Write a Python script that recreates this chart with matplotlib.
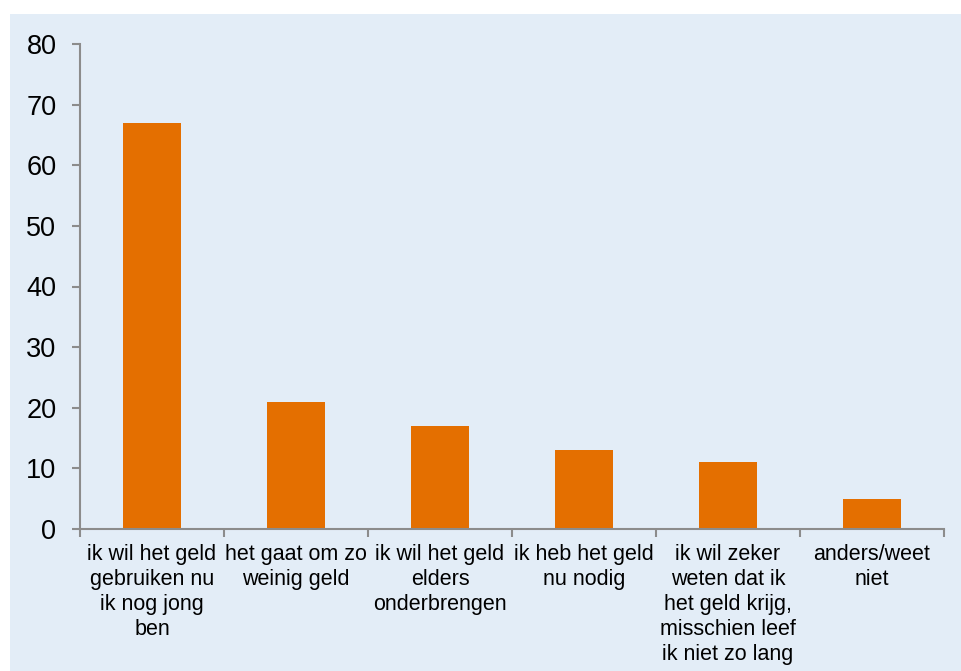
import matplotlib.pyplot as plt
from matplotlib.patches import Rectangle

plt.rcParams['font.family'] = ['Liberation Sans', 'DejaVu Sans']

redenen = [
    'ik wil het geld\ngebruiken nu\nik nog jong\nben',
    'het gaat om zo\nweinig geld',
    'ik wil het geld\nelders\nonderbrengen',
    'ik heb het geld\nnu nodig',
    'ik wil zeker\nweten dat ik\nhet geld krijg,\nmisschien leef\nik niet zo lang',
    'anders/weet\nniet',
]
percentages = [67, 21, 17, 13, 11, 5]
y_ticks = [0, 10, 20, 30, 40, 50, 60, 70, 80]

W, H = 962, 671
fig = plt.figure(figsize=(W / 100, H / 100), dpi=100)
fig.patch.set_facecolor('white')

# light blue panel behind the chart
fig.add_artist(Rectangle((10 / W, 0), 1 - 10 / W, 1 - 14 / H,
                         transform=fig.transFigure, facecolor='#E3EDF7',
                         edgecolor='none', zorder=-1))

ax = fig.add_axes([80 / W, (H - 529) / H, (944 - 80) / W, (529 - 44) / H])
ax.set_facecolor('none')
ax.set_zorder(1)

x = range(len(redenen))
ax.bar(x, percentages, width=0.4, color='#E46F00', zorder=2)

ax.set_xlim(-0.5, len(redenen) - 0.5)
ax.set_ylim(0, 80)
ax.set_yticks(y_ticks)
ax.tick_params(axis='y', labelsize=19.5, length=6, width=1.5, color='#8C8C8C', pad=11)

ax.set_xticks(list(x))
ax.set_xticklabels(redenen, fontsize=15.5, linespacing=1.25)
ax.tick_params(axis='x', length=0, pad=11)
ax.set_xticks([i - 0.5 for i in range(len(redenen) + 1)], minor=True)
ax.tick_params(axis='x', which='minor', length=6, width=1.5, color='#8C8C8C')

for side in ['top', 'right']:
    ax.spines[side].set_visible(False)
for side in ['left', 'bottom']:
    ax.spines[side].set_color('#8C8C8C')
    ax.spines[side].set_linewidth(1.5)

plt.savefig('out.png', dpi=100)
